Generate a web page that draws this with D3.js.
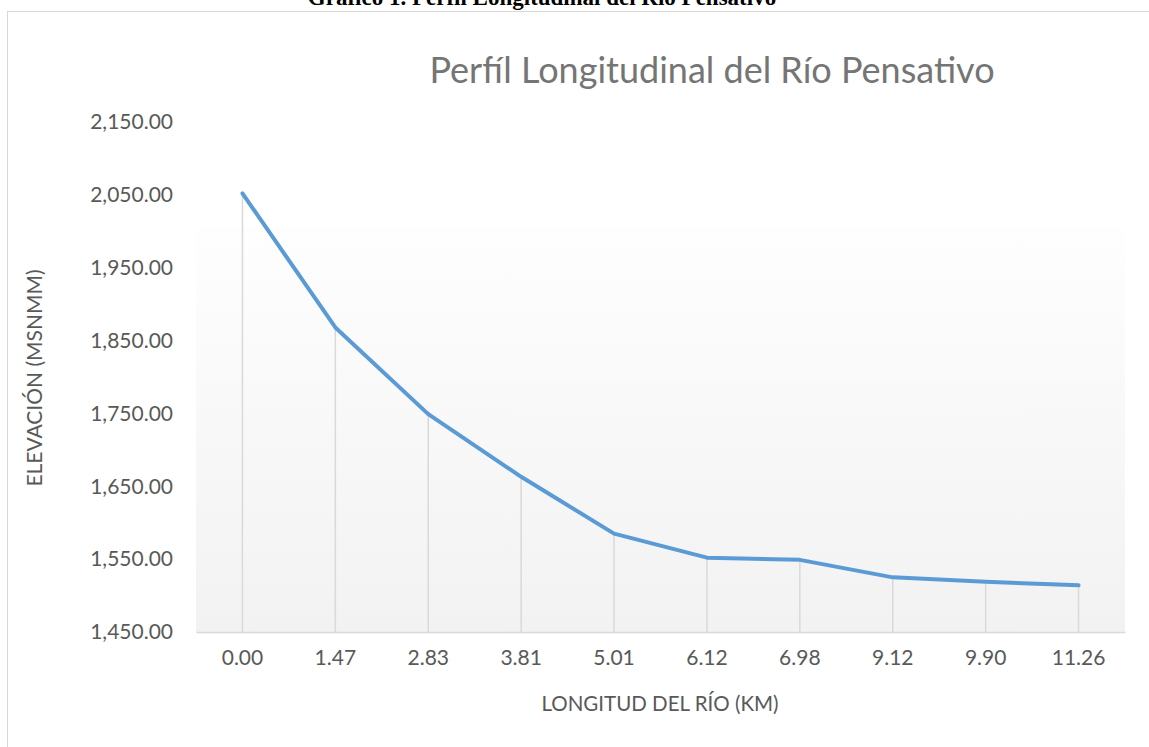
<!DOCTYPE html>
<html>
<head>
<meta charset="utf-8">
<script src="https://cdn.jsdelivr.net/npm/d3@7"></script>
<style>
  html, body { margin: 0; padding: 0; background: #fff; }
  svg { display: block; }
</style>
</head>
<body>
<svg id="chart" width="1149" height="747"></svg>
<script>
// River profile: distance along the river (km) and elevation (m.s.n.m.)
const distances = ["0.00", "1.47", "2.83", "3.81", "5.01", "6.12", "6.98", "9.12", "9.90", "11.26"];
const elevations = [2052, 1868, 1749, 1663, 1585, 1552, 1549, 1525, 1519, 1514];
const yTicks = [1450, 1550, 1650, 1750, 1850, 1950, 2050, 2150];

const svg = d3.select("#chart");
const W = 1149, H = 747;
const plot = { left: 196, right: 1125, top: 122, bottom: 632 };
const FONT = "Lato, 'Open Sans', sans-serif";

// Caption above the chart frame (clipped by the page top)
svg.append("text")
  .attr("x", 542).attr("y", 5)
  .attr("text-anchor", "middle")
  .attr("font-family", "'Liberation Serif', 'Times New Roman', serif")
  .attr("font-weight", "bold")
  .attr("font-size", 23)
  .attr("fill", "#000")
  .text("Gráfico 1. Perfil Longitudinal del Río Pensativo");

// Chart frame
svg.append("rect")
  .attr("x", 7.5).attr("y", 11.5)
  .attr("width", W).attr("height", H)
  .attr("fill", "#fff")
  .attr("stroke", "#d9d9d9").attr("stroke-width", 1);

// Plot area gradient
const defs = svg.append("defs");
const grad = defs.append("linearGradient")
  .attr("id", "plotFill").attr("x1", 0).attr("y1", 0).attr("x2", 0).attr("y2", 1);
grad.append("stop").attr("offset", "0%").attr("stop-color", "#fefefe");
grad.append("stop").attr("offset", "100%").attr("stop-color", "#f2f2f2");

const x = d3.scaleBand().domain(distances).range([plot.left, plot.right]);
const y = d3.scaleLinear().domain([1450, 2150]).range([plot.bottom, plot.top]);

svg.append("rect")
  .attr("x", plot.left).attr("y", 227)
  .attr("width", plot.right - plot.left).attr("height", plot.bottom - 227)
  .attr("fill", "url(#plotFill)");

// Drop lines from each point to the axis
svg.append("g").selectAll("line")
  .data(distances)
  .join("line")
  .attr("x1", d => x(d) + x.bandwidth() / 2)
  .attr("x2", d => x(d) + x.bandwidth() / 2)
  .attr("y1", (d, i) => y(elevations[i]))
  .attr("y2", plot.bottom)
  .attr("stroke", "#d9d9d9").attr("stroke-width", 1.5);

// X axis
const xAxis = svg.append("g")
  .attr("transform", `translate(0,${plot.bottom})`)
  .call(d3.axisBottom(x).tickSize(0).tickPadding(18));
xAxis.select(".domain").attr("stroke", "#d9d9d9").attr("stroke-width", 1.5);
xAxis.selectAll("text")
  .attr("font-family", FONT)
  .attr("font-size", 21).attr("fill", "#595959");

// Y axis (labels only)
const yAxis = svg.append("g")
  .attr("transform", `translate(${plot.left},0)`)
  .call(d3.axisLeft(y).tickValues(yTicks).tickSize(0).tickPadding(23)
    .tickFormat(d3.format(",.2f")));
yAxis.select(".domain").remove();
yAxis.selectAll("text")
  .attr("font-family", FONT)
  .attr("font-size", 21).attr("fill", "#595959");

// Profile line
const line = d3.line()
  .x((d, i) => x(distances[i]) + x.bandwidth() / 2)
  .y(d => y(d));
svg.append("path")
  .datum(elevations)
  .attr("d", line)
  .attr("fill", "none")
  .attr("stroke", "#5b9bd5")
  .attr("stroke-width", 4)
  .attr("stroke-linejoin", "round")
  .attr("stroke-linecap", "round");

// Chart title
svg.append("text")
  .attr("x", 712).attr("y", 83)
  .attr("text-anchor", "middle")
  .attr("font-family", FONT)
  .attr("font-size", 36).attr("fill", "#757575")
  .text("Perfíl Longitudinal del Río Pensativo");

// Axis titles
svg.append("text")
  .attr("x", 660).attr("y", 711)
  .attr("text-anchor", "middle")
  .attr("font-family", FONT)
  .attr("font-size", 20.5).attr("fill", "#595959")
  .text("LONGITUD DEL RÍO (KM)");

svg.append("text")
  .attr("transform", "translate(42,378) rotate(-90)")
  .attr("text-anchor", "middle")
  .attr("font-family", FONT)
  .attr("font-size", 21).attr("fill", "#595959")
  .text("ELEVACIÓN (MSNMM)");
</script>
</body>
</html>
